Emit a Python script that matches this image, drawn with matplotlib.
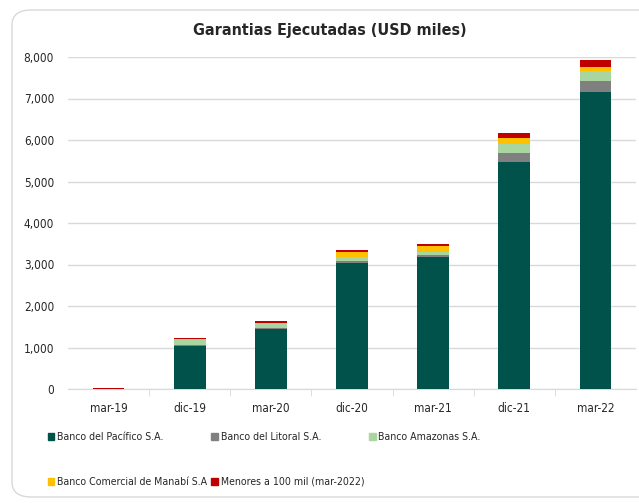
import numpy as np
import matplotlib
matplotlib.use("Agg")
import matplotlib.pyplot as plt
from matplotlib.patches import FancyBboxPatch, Patch

# -----------------------------------------------------------------
# Data (USD miles)
# -----------------------------------------------------------------
periods   = ["mar-19", "dic-19", "mar-20", "dic-20", "mar-21", "dic-21", "mar-22"]
pacifico  = [0, 1040, 1450, 3040, 3190, 5480, 7160]
litoral   = [0, 10, 15, 40, 30, 210, 255]
amazonas  = [0, 125, 110, 110, 90, 220, 240]
manabi    = [0, 30, 25, 100, 135, 130, 105]
menores   = [25, 35, 45, 60, 50, 130, 175]

series_names = ["Banco del Pacífico S.A.", "Banco del Litoral S.A.",
                "Banco Amazonas S.A.", "Banco Comercial de Manabí S.A",
                "Menores a 100 mil (mar-2022)"]
colors = ["#00524A", "#808080", "#A9D5A0", "#FFC000", "#C00000"]

plt.rcParams['font.family'] = ['DejaVu Sans']
plt.rcParams['font.stretch'] = 'condensed'

fig = plt.figure(figsize=(6.39, 5.03), dpi=100)

# rounded frame around the chart
frame = FancyBboxPatch((12/639, 6/503), 700/639, 487/503,
                       boxstyle="round,pad=0,rounding_size=0.03",
                       transform=fig.transFigure, facecolor="none",
                       edgecolor="#D9D9D9", lw=1.0, zorder=0)
fig.patches.append(frame)

ax = fig.add_axes([68/639, 1 - 389/503, 568/639, 332/503])
ax.set_facecolor("none")

x = np.arange(len(periods))
bottom = np.zeros(len(periods))
for vals, col in zip([pacifico, litoral, amazonas, manabi, menores], colors):
    ax.bar(x, vals, width=0.39, bottom=bottom, color=col, zorder=3)
    bottom = bottom + np.array(vals)

ax.set_xlim(-0.5, len(periods) - 0.5)
ax.set_ylim(0, 8000)
ax.set_yticks(np.arange(0, 8001, 1000))
ax.set_yticklabels([f"{v:,}" for v in range(0, 8001, 1000)])
ax.yaxis.grid(True, color="#D9D9D9", lw=1.0, zorder=0)
ax.tick_params(axis="y", length=0, pad=10, labelsize=8.5, labelcolor="#262626")

ax.set_xticks(x)
ax.set_xticklabels(periods)
ax.set_xticks(np.arange(0.5, len(periods) - 0.5, 1), minor=True)
ax.tick_params(axis="x", which="major", length=0, pad=9, labelsize=8.5, labelcolor="#262626")
ax.tick_params(axis="x", which="minor", length=5, color="#D9D9D9")

for s in ["top", "right", "left"]:
    ax.spines[s].set_visible(False)
ax.spines["bottom"].set_color("#D9D9D9")

fig.text(330/639, 1 - 31/503, "Garantias Ejecutadas (USD miles)",
         ha="center", va="center", fontsize=11.5, fontweight="bold", color="#262626")

# legend, filled row by row
handles = [Patch(color=c) for c in colors]
order = [0, 3, 1, 4, 2]
fig.legend([handles[i] for i in order], [series_names[i] for i in order],
           ncol=3, loc="upper left", bbox_to_anchor=(38/639, 1 - 423/503),
           frameon=False, fontsize=7.6, handlelength=0.65, handleheight=0.65,
           handletextpad=0.25, columnspacing=0.4, labelspacing=3.25,
           labelcolor="#262626")

fig.savefig("out.png", dpi=100)
